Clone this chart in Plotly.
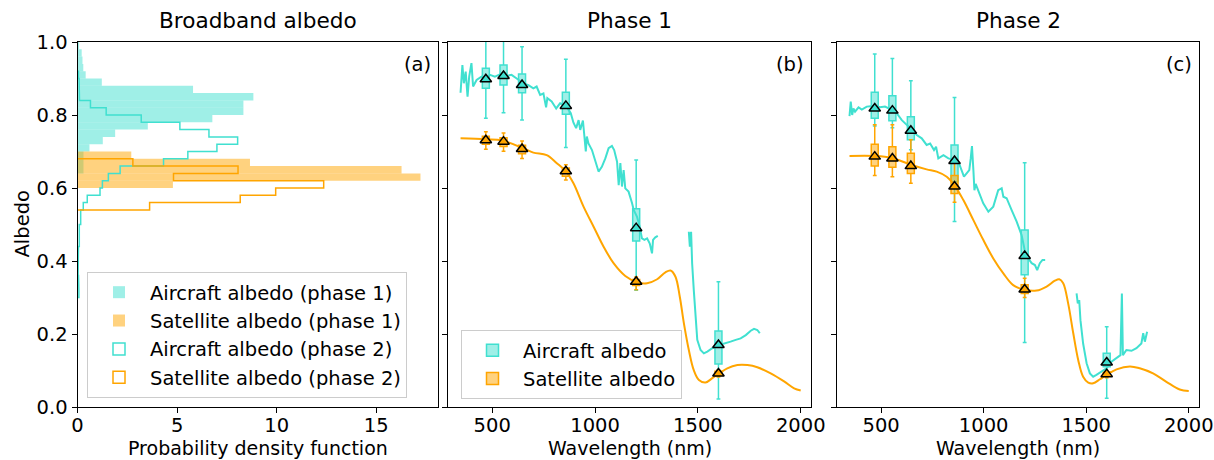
import plotly.graph_objects as go

# ---------------- data ----------------
TURQ = "#40E0D0"
ORNG = "#FFA500"

# histogram bins (lower edges), width 0.02
bin_lo = [0.30, 0.32, 0.34, 0.36, 0.38, 0.40, 0.42, 0.44, 0.46, 0.48,
          0.50, 0.52, 0.54, 0.56, 0.58, 0.60, 0.62, 0.64, 0.66, 0.68,
          0.70, 0.72, 0.74, 0.76, 0.78, 0.80, 0.82, 0.84, 0.86, 0.88,
          0.90, 0.92, 0.94, 0.96, 0.98]
bin_w = 0.02

pdf_air_p1 = [0, 0, 0, 0, 0, 0, 0, 0, 0, 0,
              0, 0, 0, 0, 0, 0, 0, 0.30, 0.30, 0.30,
              0.60, 1.27, 1.89, 3.53, 6.77, 8.33, 8.33, 8.83, 5.80, 1.22,
              0.41, 0.29, 0.25, 0.21, 0.08]
pdf_sat_p1 = [0, 0, 0, 0, 0, 0, 0, 0, 0, 0,
              0, 0, 0, 0, 0, 4.79, 17.22, 16.27, 8.66, 2.70,
              0, 0, 0, 0, 0, 0, 0, 0, 0, 0,
              0, 0, 0, 0, 0]
pdf_air_p2 = [0.07, 0.07, 0.05, 0.03, 0.03, 0.03, 0.05, 0.09, 0.09, 0.09,
              0.16, 0.16, 0.29, 0.49, 1.13, 1.25, 1.55, 2.14, 4.32, 5.54,
              7.00, 8.04, 6.60, 5.14, 3.20, 1.44, 0.65, 0.10, 0.08, 0.08,
              0.05, 0.0, 0.0, 0.0, 0.0]
pdf_sat_p2 = [0, 0, 0, 0, 0, 0, 0, 0, 0, 0,
              0, 0, 3.62, 8.17, 9.95, 12.36, 4.82, 8.06, 2.78, 0,
              0, 0, 0, 0, 0, 0, 0, 0, 0, 0,
              0, 0, 0, 0, 0]

# band wavelengths for box plots
bands = [469, 555, 645, 858, 1200, 1600]

# Phase 1 aircraft spectrum (two segments)
p1_air_wl_a = [346, 355, 362, 371, 380, 388, 399, 407, 424, 448, 469, 489, 513, 549, 570, 594, 619,
               650, 676, 700, 716, 733, 749, 762, 768, 789, 811, 830, 859, 882, 895, 908, 920, 928,
               941, 947, 955, 960, 968, 985, 1001, 1017, 1033, 1050, 1066, 1082, 1093, 1107, 1115,
               1123, 1131, 1139, 1147, 1163, 1180, 1188, 1204, 1217, 1228, 1240, 1253, 1266, 1277,
               1282, 1293, 1305]
p1_air_al_a = [0.861, 0.937, 0.887, 0.919, 0.850, 0.905, 0.942, 0.878, 0.896, 0.905, 0.900, 0.910,
               0.905, 0.914, 0.907, 0.910, 0.900, 0.887, 0.882, 0.873, 0.878, 0.855, 0.859, 0.821,
               0.846, 0.837, 0.818, 0.832, 0.825, 0.805, 0.779, 0.764, 0.786, 0.759, 0.785, 0.750,
               0.700, 0.741, 0.722, 0.704, 0.672, 0.645, 0.658, 0.681, 0.709, 0.715, 0.704, 0.672,
               0.608, 0.668, 0.604, 0.649, 0.599, 0.590, 0.558, 0.540, 0.521, 0.494, 0.462, 0.458,
               0.462, 0.448, 0.421, 0.458, 0.465, 0.469]
p1_air_wl_b = [1456, 1461, 1467, 1472, 1480, 1489, 1497, 1513, 1529, 1546, 1570, 1604, 1635, 1659,
               1684, 1708, 1733, 1757, 1773, 1789, 1801]
p1_air_al_b = [0.480, 0.439, 0.480, 0.394, 0.321, 0.238, 0.184, 0.156, 0.147, 0.152, 0.161, 0.170,
               0.174, 0.179, 0.184, 0.188, 0.197, 0.209, 0.214, 0.211, 0.202]

p1_sat_wl = [346, 469, 549, 650, 700, 765, 814, 859, 895, 944, 993, 1041, 1090, 1147, 1204, 1253,
             1302, 1342, 1367, 1391, 1412, 1432, 1456, 1480, 1505, 1537, 1570, 1604, 1643, 1692,
             1741, 1789, 1854, 1919, 1968, 2000]
p1_sat_al = [0.736, 0.733, 0.730, 0.709, 0.697, 0.690, 0.668, 0.645, 0.613, 0.549, 0.494, 0.440,
             0.394, 0.359, 0.342, 0.339, 0.350, 0.369, 0.374, 0.357, 0.302, 0.229, 0.156, 0.101,
             0.074, 0.067, 0.079, 0.092, 0.106, 0.115, 0.115, 0.109, 0.092, 0.070, 0.051, 0.045]

# Phase 2 aircraft spectrum
p2_air_wl_a = [346, 352, 359, 365, 373, 390, 406, 430, 468, 495, 519, 549, 576, 601, 625, 649, 674,
               698, 722, 739, 758, 768, 779, 804, 828, 857, 877, 893, 904, 917, 930, 937, 943, 950,
               955, 961, 974, 998, 1023, 1047, 1071, 1088, 1096, 1112, 1136, 1161, 1185, 1200, 1218,
               1234, 1250, 1261, 1274, 1287, 1300]
p2_air_al_a = [0.797, 0.837, 0.800, 0.818, 0.809, 0.821, 0.815, 0.823, 0.825, 0.821, 0.823, 0.815,
               0.805, 0.786, 0.773, 0.761, 0.745, 0.736, 0.718, 0.722, 0.704, 0.713, 0.681, 0.690,
               0.681, 0.677, 0.672, 0.649, 0.631, 0.640, 0.649, 0.681, 0.715, 0.649, 0.594, 0.611,
               0.594, 0.558, 0.535, 0.549, 0.594, 0.599, 0.576, 0.572, 0.540, 0.508, 0.471, 0.430,
               0.407, 0.394, 0.389, 0.375, 0.394, 0.403, 0.403]
p2_air_wl_b = [1453, 1459, 1466, 1472, 1485, 1502, 1518, 1534, 1550, 1575, 1599, 1623, 1648, 1667,
               1674, 1679, 1696, 1721, 1745, 1769, 1778, 1786, 1797]
p2_air_al_b = [0.311, 0.284, 0.293, 0.238, 0.174, 0.120, 0.092, 0.083, 0.088, 0.097, 0.106, 0.124,
               0.133, 0.142, 0.311, 0.142, 0.156, 0.154, 0.161, 0.174, 0.202, 0.179, 0.206]

p2_sat_wl = [346, 468, 549, 649, 722, 771, 820, 857, 901, 950, 998, 1047, 1096, 1144, 1200, 1258,
             1307, 1347, 1369, 1388, 1412, 1437, 1461, 1485, 1510, 1534, 1567, 1599, 1648, 1713,
             1761, 1826, 1891, 1956, 2000]
p2_sat_al = [0.688, 0.688, 0.683, 0.663, 0.651, 0.645, 0.631, 0.608, 0.567, 0.512, 0.458, 0.407,
             0.366, 0.334, 0.321, 0.319, 0.330, 0.346, 0.350, 0.339, 0.284, 0.202, 0.129, 0.083,
             0.067, 0.065, 0.076, 0.088, 0.103, 0.111, 0.106, 0.092, 0.069, 0.048, 0.044]

# band statistics: mean (triangle), q1, q3, whisker low, whisker high
p1_air_mean = [0.898, 0.907, 0.882, 0.825, 0.490, 0.170]
p1_air_q1 = [0.873, 0.882, 0.861, 0.802, 0.455, 0.118]
p1_air_q3 = [0.928, 0.937, 0.912, 0.862, 0.543, 0.208]
p1_air_lo = [0.791, 0.806, 0.786, 0.711, 0.320, 0.022]
p1_air_hi = [1.03, 1.03, 0.987, 0.953, 0.677, 0.343]

p1_sat_mean = [0.731, 0.727, 0.707, 0.646, 0.343, 0.092]
p1_sat_q1 = [0.720, 0.714, 0.694, 0.632, 0.333, 0.086]
p1_sat_q3 = [0.742, 0.738, 0.717, 0.655, 0.349, 0.098]
p1_sat_lo = [0.706, 0.701, 0.681, 0.622, 0.321, 0.082]
p1_sat_hi = [0.754, 0.751, 0.729, 0.664, 0.356, 0.102]

p2_air_mean = [0.818, 0.812, 0.757, 0.674, 0.414, 0.122]
p2_air_q1 = [0.791, 0.784, 0.732, 0.617, 0.362, 0.110]
p2_air_q3 = [0.862, 0.853, 0.795, 0.718, 0.485, 0.147]
p2_air_lo = [0.770, 0.765, 0.705, 0.508, 0.177, 0.024]
p2_air_hi = [0.967, 0.955, 0.894, 0.848, 0.669, 0.220]

p2_sat_mean = [0.686, 0.681, 0.660, 0.604, 0.322, 0.090]
p2_sat_q1 = [0.660, 0.657, 0.640, 0.585, 0.311, 0.084]
p2_sat_q3 = [0.720, 0.713, 0.695, 0.634, 0.335, 0.096]
p2_sat_lo = [0.634, 0.631, 0.613, 0.561, 0.300, 0.080]
p2_sat_hi = [0.773, 0.773, 0.732, 0.668, 0.353, 0.100]

# ---------------- figure ----------------
W, H = 1214, 460
FONT = "DejaVu Sans"
FS = 19.5
fig = go.Figure()


def rgba(hexc, a):
    h = hexc.lstrip("#")
    return "rgba(%d,%d,%d,%.2f)" % (int(h[0:2], 16), int(h[2:4], 16), int(h[4:6], 16), a)


centers = [b + bin_w / 2 for b in bin_lo]

# filled histograms (phase 1)
for pdf, col, name in [(pdf_air_p1, TURQ, "Aircraft albedo (phase 1)"),
                       (pdf_sat_p1, ORNG, "Satellite albedo (phase 1)")]:
    fig.add_trace(go.Bar(y=centers, x=pdf, orientation="h", width=bin_w,
                         marker=dict(color=rgba(col, 0.5), line=dict(width=0)),
                         name=name, xaxis="x", yaxis="y", legend="legend"))


def step_path(pdf):
    idx = [i for i, v in enumerate(pdf) if v > 0]
    i0, i1 = idx[0], idx[-1]
    xs, ys = [0], [bin_lo[i0]]
    for i in range(i0, i1 + 1):
        xs += [pdf[i], pdf[i]]
        ys += [bin_lo[i], bin_lo[i] + bin_w]
    xs.append(0)
    ys.append(bin_lo[i1] + bin_w)
    return xs, ys


for pdf, col, name in [(pdf_air_p2, TURQ, "Aircraft albedo (phase 2)"),
                       (pdf_sat_p2, ORNG, "Satellite albedo (phase 2)")]:
    xs, ys = step_path(pdf)
    fig.add_trace(go.Scatter(x=xs, y=ys, mode="lines", line=dict(color=col, width=1.5),
                             showlegend=False, legendgroup=name, xaxis="x", yaxis="y"))
    # legend entry (outlined patch)
    fig.add_trace(go.Bar(y=[None], x=[None], orientation="h",
                         marker=dict(color="rgba(255,255,255,0)", line=dict(color=col, width=1.5)),
                         name=name, legendgroup=name, xaxis="x", yaxis="y", legend="legend"))

# spectral panels
panels = [
    ("x2", "y2", p1_air_wl_a, p1_air_al_a, p1_air_wl_b, p1_air_al_b, p1_sat_wl, p1_sat_al,
     (p1_air_mean, p1_air_q1, p1_air_q3, p1_air_lo, p1_air_hi),
     (p1_sat_mean, p1_sat_q1, p1_sat_q3, p1_sat_lo, p1_sat_hi), True),
    ("x3", "y3", p2_air_wl_a, p2_air_al_a, p2_air_wl_b, p2_air_al_b, p2_sat_wl, p2_sat_al,
     (p2_air_mean, p2_air_q1, p2_air_q3, p2_air_lo, p2_air_hi),
     (p2_sat_mean, p2_sat_q1, p2_sat_q3, p2_sat_lo, p2_sat_hi), False),
]

for xa, ya, awa, aaa, awb, aab, swl, sal, astat, sstat, leg in panels:
    fig.add_trace(go.Scatter(x=awa + [None] + awb, y=aaa + [None] + aab, mode="lines",
                             line=dict(color=TURQ, width=2), showlegend=False,
                             connectgaps=False, xaxis=xa, yaxis=ya))
    fig.add_trace(go.Scatter(x=swl, y=sal, mode="lines", line=dict(color=ORNG, width=2),
                             line_shape="spline", showlegend=False, xaxis=xa, yaxis=ya))
    for stat, col, name in [(astat, TURQ, "Aircraft albedo"), (sstat, ORNG, "Satellite albedo")]:
        mean, q1, q3, lo, hi = stat
        fig.add_trace(go.Box(x=bands, q1=q1, median=mean, q3=q3, lowerfence=lo, upperfence=hi,
                             width=34, whiskerwidth=0.55, fillcolor=rgba(col, 0.5),
                             line=dict(color=col, width=1.5), boxpoints=False,
                             name=name, showlegend=leg, legend="legend2",
                             xaxis=xa, yaxis=ya))
        fig.add_trace(go.Scatter(x=bands, y=mean, mode="markers",
                                 marker=dict(symbol="triangle-up", size=10, color=col,
                                             line=dict(color="black", width=1.5)),
                                 showlegend=False, xaxis=xa, yaxis=ya))

# ---------------- layout ----------------
def px_x(p):
    return p / W


def px_y(p):
    return 1 - p / H


ydom = [px_y(407), px_y(42)]
xdoms = [[px_x(77.5), px_x(438)], [px_x(448), px_x(811)], [px_x(837), px_x(1199)]]

axis_common = dict(showline=True, linecolor="black", linewidth=1, mirror=True,
                   ticks="outside", ticklen=5, tickwidth=1, tickcolor="black",
                   showgrid=False, zeroline=False, automargin=False,
                   tickfont=dict(family=FONT, size=FS, color="black"))
xaxis_extra = dict(ticklabelstandoff=-4)

yt = [0, 0.2, 0.4, 0.6, 0.8, 1.0]
fig.update_layout(
    width=W, height=H, margin=dict(l=0, r=0, t=0, b=0, autoexpand=False),
    paper_bgcolor="white", plot_bgcolor="white",
    barmode="overlay", boxmode="overlay",
    font=dict(family=FONT, size=FS, color="black"),
    xaxis=dict(domain=xdoms[0], anchor="y", range=[0, 18.1], tickvals=[0, 5, 10, 15],
               **axis_common, **xaxis_extra),
    yaxis=dict(domain=ydom, anchor="x", range=[0, 1], tickvals=yt, tickformat=".1f",
               **axis_common),
    xaxis2=dict(domain=xdoms[1], anchor="y2", range=[285, 2050],
                tickvals=[500, 1000, 1500, 2000], **axis_common, **xaxis_extra),
    yaxis2=dict(domain=ydom, anchor="x2", range=[0, 1], tickvals=yt,
                showticklabels=False, **axis_common),
    xaxis3=dict(domain=xdoms[2], anchor="y3", range=[285, 2050],
                tickvals=[500, 1000, 1500, 2000], **axis_common, **xaxis_extra),
    yaxis3=dict(domain=ydom, anchor="x3", range=[0, 1], tickvals=yt,
                showticklabels=False, **axis_common),
    legend=dict(x=px_x(87), y=px_y(272), xanchor="left", yanchor="top", itemwidth=52,
                bgcolor="rgba(255,255,255,0.8)", bordercolor="#cccccc", borderwidth=1,
                font=dict(family=FONT, size=FS, color="black"), traceorder="normal"),
    legend2=dict(x=px_x(461), y=px_y(330), xanchor="left", yanchor="top", itemwidth=51,
                 bgcolor="rgba(255,255,255,0.8)", bordercolor="#cccccc", borderwidth=1,
                 font=dict(family=FONT, size=FS, color="black"), traceorder="normal"),
)

titles = [("Broadband albedo", 0), ("Phase 1", 1), ("Phase 2", 2)]
for txt, i in titles:
    fig.add_annotation(text=txt, x=(xdoms[i][0] + xdoms[i][1]) / 2, y=px_y(21),
                       xref="paper", yref="paper", showarrow=False, xanchor="center",
                       yanchor="middle", font=dict(family=FONT, size=21.6, color="black"))

xtitles = ["Probability density function", "Wavelength (nm)", "Wavelength (nm)"]
for i, txt in enumerate(xtitles):
    fig.add_annotation(text=txt, x=(xdoms[i][0] + xdoms[i][1]) / 2, y=px_y(447.5),
                       xref="paper", yref="paper", showarrow=False, xanchor="center",
                       yanchor="middle", borderpad=0,
                       font=dict(family=FONT, size=19, color="black"))

fig.add_annotation(text="Albedo", x=px_x(22), y=(ydom[0] + ydom[1]) / 2, textangle=-90,
                   xref="paper", yref="paper", showarrow=False, xanchor="center",
                   yanchor="middle", font=dict(family=FONT, size=FS, color="black"))

for lab, xr, yr in [("(a)", "x domain", "y domain"), ("(b)", "x2 domain", "y2 domain"),
                    ("(c)", "x3 domain", "y3 domain")]:
    fig.add_annotation(text=lab, x=0.985, y=0.975, xref=xr, yref=yr, showarrow=False,
                       xanchor="right", yanchor="top",
                       font=dict(family=FONT, size=FS, color="black"))

fig.write_html("out.html")
